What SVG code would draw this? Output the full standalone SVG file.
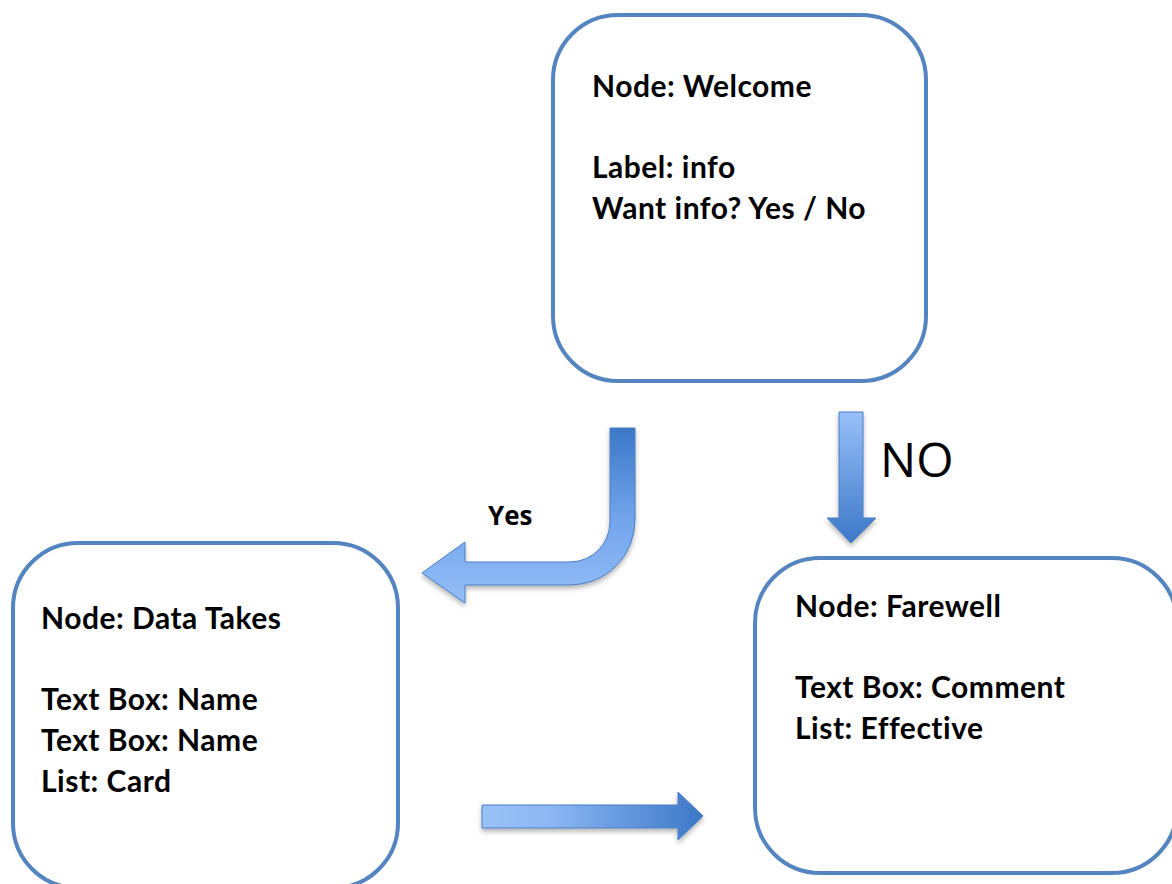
<svg xmlns="http://www.w3.org/2000/svg" width="1172" height="884" viewBox="0 0 1172 884">
<style>
.box{fill:#ffffff;stroke:#5585C0;stroke-width:4}
.t{font-family:Lato,"Open Sans",sans-serif;font-weight:bold;font-size:30px;letter-spacing:0.5px;fill:#000000}
.arrow{stroke:#4A7EC4;stroke-width:1;filter:url(#sh)}
.lbl{font-family:"Open Sans","Liberation Sans",sans-serif;fill:#000000}
</style>
<defs>
<linearGradient id="gYes" gradientUnits="userSpaceOnUse" x1="0" y1="428" x2="0" y2="600">
<stop offset="0" stop-color="#3B78C8"/><stop offset="0.55" stop-color="#74A6EC"/><stop offset="1" stop-color="#93BDF7"/>
</linearGradient>
<linearGradient id="gNo" gradientUnits="userSpaceOnUse" x1="0" y1="412" x2="0" y2="543">
<stop offset="0" stop-color="#97C0F8"/><stop offset="1" stop-color="#3C78C8"/>
</linearGradient>
<linearGradient id="gR" gradientUnits="userSpaceOnUse" x1="482" y1="0" x2="703" y2="0">
<stop offset="0" stop-color="#9AC2F8"/><stop offset="0.3" stop-color="#8DB8F3"/><stop offset="1" stop-color="#3C78C8"/>
</linearGradient>
<filter id="sh" x="-20%" y="-20%" width="140%" height="140%">
<feDropShadow dx="0" dy="3" stdDeviation="2.5" flood-color="#000000" flood-opacity="0.3"/>
</filter>
</defs>
<g id="node-welcome">
<rect class="box" x="553" y="15" width="373" height="366" rx="65" ry="65"/>
<text class="t" x="592" y="97">Node: Welcome</text>
<text class="t" x="592" y="178">Label: info</text>
<text class="t" x="592" y="219">Want info? Yes / No</text>
</g>
<g id="node-data-takes">
<rect class="box" x="13" y="543" width="385" height="345" rx="65" ry="65"/>
<text class="t" x="41" y="629">Node: Data Takes</text>
<text class="t" x="41" y="710">Text Box: Name</text>
<text class="t" x="41" y="751">Text Box: Name</text>
<text class="t" x="41" y="792">List: Card</text>
</g>
<g id="node-farewell">
<rect class="box" x="755" y="558" width="422" height="315" rx="65" ry="65"/>
<text class="t" x="795" y="617">Node: Farewell</text>
<text class="t" x="795" y="698">Text Box: Comment</text>
<text class="t" x="795" y="739">List: Effective</text>
</g>
<g id="connectors">
<path class="arrow" fill="url(#gYes)" d="M610 428 L635 428 L635 520 A65 65 0 0 1 570 585 L465 585 L465 603 L422 573 L465 542 L465 562 L570 562 A40 40 0 0 0 610 522 Z"/>
<text class="lbl" x="488" y="525" font-size="26" font-weight="bold">Yes</text>
<path class="arrow" fill="url(#gNo)" d="M839 412 L863 412 L863 518 L876 518 L851 543 L827 518 L839 518 Z"/>
<text class="lbl" x="880" y="477" font-size="48">NO</text>
<path class="arrow" fill="url(#gR)" d="M482 805 L678 805 L678 792 L703 816 L678 840 L678 828 L482 828 Z"/>
</g>
</svg>
